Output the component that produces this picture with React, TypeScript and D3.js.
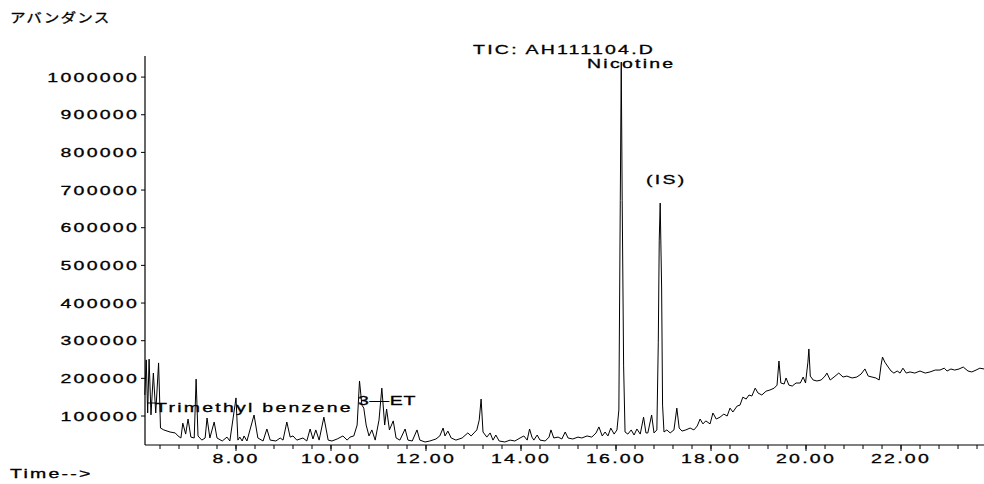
import React from "react";
import * as d3 from "d3";

// retention time (min) / abundance
const times = [
  6.08, 6.11, 6.14, 6.17, 6.21, 6.26, 6.31, 6.37, 6.41, 6.48, 6.61, 6.72, 6.78, 6.84, 6.88, 6.94,
  6.99, 7.05, 7.12, 7.16, 7.2, 7.28, 7.35, 7.39, 7.45, 7.54, 7.6, 7.71, 7.81, 7.87, 8.0, 8.04,
  8.08, 8.13, 8.17, 8.23, 8.38, 8.46, 8.57, 8.65, 8.72, 8.84, 8.93, 8.99, 9.07, 9.14, 9.2, 9.28,
  9.41, 9.49, 9.56, 9.62, 9.68, 9.75, 9.85, 9.94, 10.02, 10.13, 10.25, 10.34, 10.4, 10.48, 10.55,
  10.6, 10.65, 10.69, 10.74, 10.8, 10.86, 10.93, 11.01, 11.07, 11.13, 11.17, 11.23, 11.31, 11.37,
  11.45, 11.56, 11.62, 11.71, 11.81, 11.87, 11.98, 12.08, 12.21, 12.29, 12.36, 12.4, 12.46, 12.53,
  12.63, 12.76, 12.88, 12.95, 13.01, 13.07, 13.12, 13.16, 13.2, 13.28, 13.35, 13.41, 13.47, 13.54,
  13.66, 13.77, 13.87, 13.98, 14.06, 14.13, 14.18, 14.23, 14.27, 14.34, 14.4, 14.51, 14.59, 14.63,
  14.69, 14.78, 14.86, 14.93, 14.99, 15.09, 15.2, 15.28, 15.39, 15.49, 15.58, 15.64, 15.71, 15.77,
  15.83, 15.89, 15.96, 16.02, 16.06, 16.09, 16.11, 16.13, 16.16, 16.19, 16.25, 16.32, 16.38, 16.44,
  16.51, 16.58, 16.63, 16.67, 16.75, 16.8, 16.86, 16.89, 16.91, 16.93, 16.96, 16.98, 17.01, 17.07,
  17.14, 17.22, 17.28, 17.33, 17.39, 17.47, 17.56, 17.64, 17.71, 17.77, 17.83, 17.89, 17.98, 18.04,
  18.11, 18.19, 18.27, 18.34, 18.4, 18.46, 18.55, 18.61, 18.67, 18.74, 18.8, 18.86, 18.93, 18.99,
  19.07, 19.16, 19.24, 19.33, 19.39, 19.43, 19.47, 19.54, 19.58, 19.64, 19.71, 19.79, 19.88, 19.94,
  19.99, 20.04, 20.06, 20.09, 20.15, 20.23, 20.32, 20.4, 20.44, 20.51, 20.59, 20.69, 20.78, 20.86,
  20.97, 21.07, 21.16, 21.24, 21.31, 21.39, 21.47, 21.54, 21.58, 21.61, 21.66, 21.73, 21.79, 21.85,
  21.92, 21.98, 22.04, 22.11, 22.19, 22.29, 22.4, 22.51, 22.61, 22.72, 22.82, 22.91, 22.97, 23.05,
  23.13, 23.22, 23.31, 23.41, 23.49, 23.58, 23.66, 23.75,
];

const abundance = [
  156000, 249000, 108000, 251000, 103000, 214000, 108000, 241000, 68000, 63000, 57500, 55000, 47000, 41600, 81000, 52000,
  92000, 44000, 41600, 198000, 47000, 36000, 41600, 94700, 41600, 84000, 41600, 33600, 44000, 33600, 148000, 36000,
  44000, 33600, 47000, 33600, 102700, 41600, 33600, 65500, 36000, 33600, 41600, 36000, 84000, 44000, 47000, 36000,
  41600, 33600, 65500, 39000, 63000, 36000, 97000, 36000, 33600, 39000, 47000, 36000, 44000, 47000, 76000,
  193000, 129000, 121000, 76000, 47000, 63000, 36000, 89000, 174000, 76000, 118600, 63000, 87000, 41600,
  36000, 65500, 36000, 33600, 63000, 36000, 31000, 33600, 39000, 47000, 68000, 47000, 60000, 41600,
  36000, 41600, 55000, 47000, 55000, 63000, 89000, 145000, 57500, 44000, 55000, 36000, 49500, 33600,
  31000, 36000, 33600, 41600, 47000, 36000, 65500, 44000, 36000, 49500, 36000, 33600, 44000, 63000,
  41600, 44000, 39000, 57500, 41600, 39000, 44000, 41600, 47000, 44000, 55000, 71000, 47000, 57500,
  47000, 68000, 52000, 63000, 116000, 673000, 1040000, 673000, 233000, 57500, 52000, 63000, 49500, 65500,
  52000, 97000, 55000, 55000, 102700, 55000, 63000, 296000, 567000, 665500, 442500, 129000, 57500, 63000,
  55000, 63000, 121000, 68000, 60000, 63000, 68000, 63000, 73500, 92000, 79000, 87000, 79000, 108000,
  92000, 97000, 105000, 100000, 121000, 110600, 126500, 129000, 150000, 145000, 155800, 153000, 174000, 161000,
  155800, 166000, 169000, 174000, 182000, 246000, 187600, 185000, 201000, 182000, 179600, 187600, 187600, 203500,
  187600, 243000, 278000, 206000, 195600, 193000, 195600, 206000, 214000, 195600, 203500, 214000, 203500, 206000,
  201000, 203500, 211500, 225000, 206000, 203500, 201000, 195600, 235000, 256600, 243000, 230000, 219500, 214000,
  219500, 214000, 227000, 214000, 217000, 214000, 219500, 214000, 217000, 222000, 222000, 227000, 219500, 224800,
  222000, 224800, 230000, 219500, 217000, 222000, 227000, 224800,
];

const yTicks = [100000, 200000, 300000, 400000, 500000, 600000, 700000, 800000, 900000, 1000000];
const xTicks = [8, 10, 12, 14, 16, 18, 20, 22];

const FONT = "'Liberation Sans', Arial, 'Noto Sans CJK JP', sans-serif";

function Label({ x, y, text, anchor = "start", sx = 1.5, ls = 1.5 }: any) {
  return (
    <text
      transform={`translate(${x},${y}) scale(${sx},1)`}
      textAnchor={anchor}
      fontSize={13}
      letterSpacing={ls}
      fontFamily={FONT}
      fill="#000"
      stroke="#000"
      strokeWidth={0.3}
    >
      {text}
    </text>
  );
}

export default function App() {
  const width = 984;
  const height = 484;
  const left = 145;
  const right = 984;
  const top = 56;
  const bottom = 445;

  const x = d3.scaleLinear().domain([6.084, 23.747]).range([left, right]);
  const y = d3.scaleLinear().domain([23000, 1056000]).range([bottom, top]);

  const pts: [number, number][] = times.map((t, i) => [t, abundance[i]]);
  const line = d3
    .line<[number, number]>()
    .x((d) => x(d[0]))
    .y((d) => y(d[1]));

  const minorTicks = d3.range(6.4, 23.75, 0.4);

  return (
    <svg
      width={width}
      height={height}
      style={{ position: "absolute", left: 0, top: 0, background: "#fff" }}
    >
      <rect width={width} height={height} fill="#fff" />

      {/* y axis */}
      <line x1={left} x2={left} y1={top} y2={bottom} stroke="#000" strokeWidth={1.2} />
      {yTicks.map((v) => (
        <g key={v}>
          <line x1={left - 4} x2={left} y1={y(v)} y2={y(v)} stroke="#000" />
          <Label x={left - 6} y={y(v) + 4.5} text={String(v)} anchor="end" />
        </g>
      ))}

      {/* x axis */}
      <line x1={left} x2={right} y1={bottom} y2={bottom} stroke="#000" strokeWidth={1.2} />
      {minorTicks.map((t) => (
        <line key={t} x1={x(t)} x2={x(t)} y1={bottom} y2={bottom + 4} stroke="#000" />
      ))}
      {xTicks.map((t) => (
        <g key={t}>
          <line x1={x(t)} x2={x(t)} y1={bottom} y2={bottom + 6} stroke="#000" />
          <Label x={x(t)} y={bottom + 18} text={t.toFixed(2)} anchor="middle" />
        </g>
      ))}

      {/* trace */}
      <path d={line(pts) || ""} fill="none" stroke="#000" strokeWidth={1} strokeLinejoin="round" />

      {/* annotations */}
      <Label x={10} y={22} text="アバンダンス" sx={1.2} ls={1} />
      <Label x={10} y={478} text="Time-->" />
      <Label x={473} y={54} text="TIC: AH111104.D" />
      <Label x={587} y={68} text="Nicotine" />
      <Label x={646} y={184} text="(IS)" />
      <line x1={147} x2={156} y1={403} y2={403} stroke="#000" />
      <Label x={155} y={412} text="Trimethyl benzene" />
      <Label x={358} y={405} text="3—ET" ls={0.5} />
    </svg>
  );
}
